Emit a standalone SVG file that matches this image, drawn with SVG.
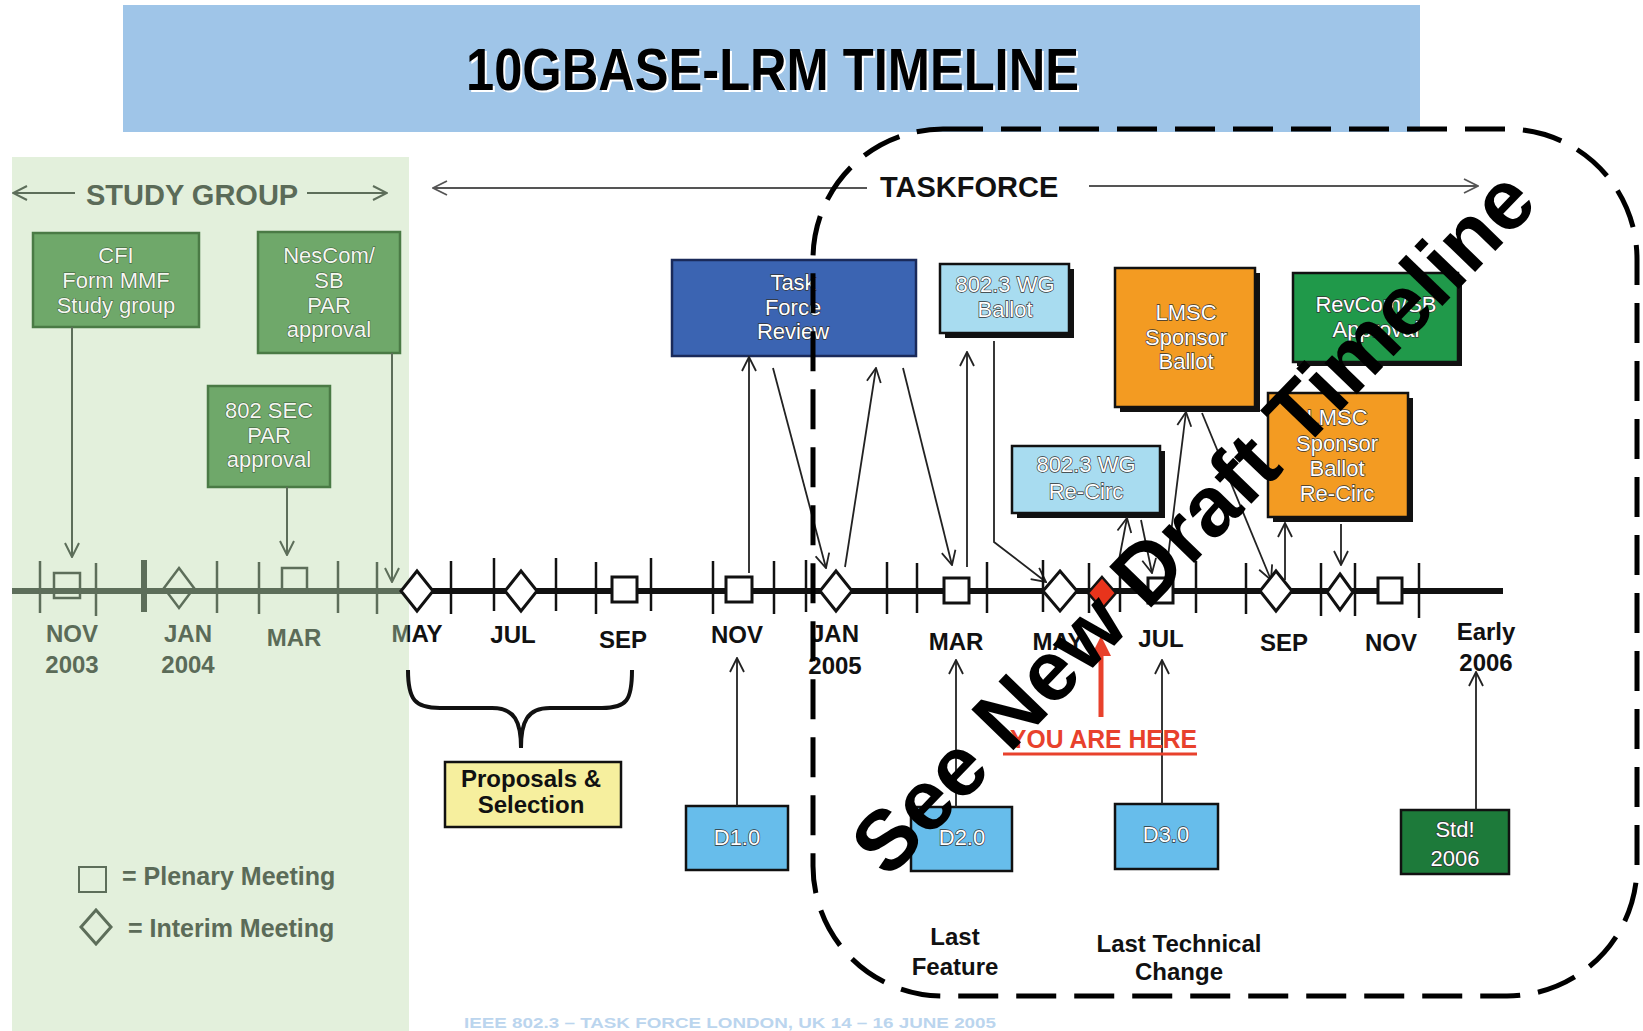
<svg xmlns="http://www.w3.org/2000/svg" width="1643" height="1031" viewBox="0 0 1643 1031">
<defs>
<style>
.sg{font-family:"Liberation Sans",Arial,sans-serif;font-weight:bold;fill:#5B6B58}
.lb{font-family:"Liberation Sans",Arial,sans-serif;font-weight:bold;font-size:24px;fill:#111;text-anchor:middle}
.lbg{font-family:"Liberation Sans",Arial,sans-serif;font-weight:bold;font-size:24px;fill:#5B6B58;text-anchor:middle}
.gt{font-family:"Liberation Sans",Arial,sans-serif;font-size:22px;fill:#F4F7F0;stroke:#3B5638;stroke-width:1;paint-order:stroke;text-anchor:middle}
.wt{font-family:"Liberation Sans",Arial,sans-serif;font-size:22px;fill:#fff;stroke:#333;stroke-width:1.3;paint-order:stroke;text-anchor:middle}
.gbox{fill:#6FA86A;stroke:#4A7A45;stroke-width:2.5}
.bk{stroke:#111;stroke-width:2.5}
.sh{fill:#111}
.con{fill:none;stroke:#222;stroke-width:1.8;marker-end:url(#ah)}
.cong{fill:none;stroke:#5D6E5A;stroke-width:2;marker-end:url(#ahg)}
.tk{stroke:#111;stroke-width:2.5}
.tkg{stroke:#5D6E5A;stroke-width:2.5}
.mt{fill:#fff;stroke:#111;stroke-width:3}
.mtg{fill:none;stroke:#5D6E5A;stroke-width:2.5}
</style>
<marker id="ah" viewBox="0 0 16 16" refX="15" refY="8" markerWidth="16" markerHeight="16" markerUnits="userSpaceOnUse" orient="auto"><path d="M1,1 L15,8 L1,15" fill="none" stroke="#222" stroke-width="1.8"/></marker>
<marker id="ahg" viewBox="0 0 16 16" refX="15" refY="8" markerWidth="16" markerHeight="16" markerUnits="userSpaceOnUse" orient="auto"><path d="M1,1 L15,8 L1,15" fill="none" stroke="#5D6E5A" stroke-width="2"/></marker>
<marker id="ahl" viewBox="0 0 16 16" refX="15" refY="8" markerWidth="16" markerHeight="16" markerUnits="userSpaceOnUse" orient="auto"><path d="M1,1 L15,8 L1,15" fill="none" stroke="#555" stroke-width="1.8"/></marker>
<clipPath id="cl"><rect x="0" y="0" width="408" height="1031"/></clipPath>
<clipPath id="cr"><rect x="408" y="0" width="1235" height="1031"/></clipPath>
</defs>
<rect x="0" y="0" width="1643" height="1031" fill="#fff"/>
<rect x="12" y="157" width="397" height="874" fill="#E3F0DC"/>
<g id="title">
<rect x="123" y="5" width="1297" height="127" fill="#9FC5E8"/>
<text x="468" y="92" font-family="'Liberation Sans',Arial,sans-serif" font-weight="bold" font-size="60" fill="#fff" textLength="613" lengthAdjust="spacingAndGlyphs">10GBASE-LRM TIMELINE</text>
<text x="466" y="90" font-family="'Liberation Sans',Arial,sans-serif" font-weight="bold" font-size="60" fill="#000" textLength="613" lengthAdjust="spacingAndGlyphs">10GBASE-LRM TIMELINE</text>
</g>
<g id="study-group-label">
<text class="sg" x="86" y="205" font-size="29">STUDY GROUP</text>
<line x1="75" y1="193" x2="13" y2="193" class="cong"/>
<line x1="307" y1="193" x2="387" y2="193" class="cong"/>
</g>
<g id="taskforce-label">
<text x="880" y="197" font-family="'Liberation Sans',Arial,sans-serif" font-weight="bold" font-size="29" fill="#111">TASKFORCE</text>
<line x1="867" y1="188" x2="433" y2="188" fill="none" stroke="#555" stroke-width="1.8" marker-end="url(#ahl)"/>
<line x1="1089" y1="186" x2="1478" y2="186" fill="none" stroke="#555" stroke-width="1.8" marker-end="url(#ahl)"/>
</g>
<g id="cfi"><rect class="gbox" x="33" y="233" width="166" height="94"/>
<text class="gt" x="116" y="263">CFI</text><text class="gt" x="116" y="288">Form MMF</text><text class="gt" x="116" y="313">Study group</text></g>
<g id="nescom"><rect class="gbox" x="258" y="232" width="142" height="121"/>
<text class="gt" x="329" y="263">NesCom/</text><text class="gt" x="329" y="288">SB</text><text class="gt" x="329" y="313">PAR</text><text class="gt" x="329" y="337">approval</text></g>
<g id="sec"><rect class="gbox" x="208" y="386" width="122" height="101"/>
<text class="gt" x="269" y="418">802 SEC</text><text class="gt" x="269" y="443">PAR</text><text class="gt" x="269" y="467">approval</text></g>
<g id="tfr"><rect x="672" y="260" width="244" height="96" fill="#3B64B2" stroke="#1A2A5A" stroke-width="2.5"/>
<text class="wt" x="793" y="290" stroke="#1A2A5A">Task</text><text class="wt" x="793" y="315" stroke="#1A2A5A">Force</text><text class="wt" x="793" y="339" stroke="#1A2A5A">Review</text></g>
<g id="wg-ballot"><rect class="sh" x="945" y="269" width="129" height="69"/><rect class="bk" x="940" y="264" width="129" height="69" fill="#A8DCF0"/>
<text class="wt" x="1005" y="292">802.3 WG</text><text class="wt" x="1005" y="317">Ballot</text></g>
<g id="lmsc-ballot"><rect class="sh" x="1120" y="273" width="140" height="139"/><rect class="bk" x="1115" y="268" width="140" height="139" fill="#F39B22"/>
<text class="wt" x="1186" y="320">LMSC</text><text class="wt" x="1186" y="345">Sponsor</text><text class="wt" x="1186" y="369">Ballot</text></g>
<g id="revcom"><rect class="sh" x="1297" y="277" width="165" height="89"/><rect class="bk" x="1293" y="273" width="165" height="89" fill="#20994A"/>
<text class="wt" x="1376" y="312">RevCom/SB</text><text class="wt" x="1376" y="337">Approval</text></g>
<g id="wg-recirc"><rect class="sh" x="1017" y="451" width="148" height="67"/><rect class="bk" x="1012" y="446" width="148" height="67" fill="#A8DCF0"/>
<text class="wt" x="1086" y="472">802.3 WG</text><text class="wt" x="1086" y="499">Re-Circ</text></g>
<g id="lmsc-recirc"><rect class="sh" x="1273" y="398" width="140" height="124"/><rect class="bk" x="1268" y="393" width="140" height="124" fill="#F39B22"/>
<text class="wt" x="1337" y="425">LMSC</text><text class="wt" x="1337" y="451">Sponsor</text><text class="wt" x="1337" y="476">Ballot</text><text class="wt" x="1337" y="501">Re-Circ</text></g>
<g id="proposals"><rect class="bk" x="445" y="762" width="176" height="65" fill="#F6EF9E"/>
<text class="lb" x="531" y="787" font-size="21">Proposals &amp;</text><text class="lb" x="531" y="813" font-size="21">Selection</text></g>
<g id="d1"><rect class="bk" x="686" y="806" width="102" height="64" fill="#67BDEB"/><text class="wt" x="737" y="845" font-size="21">D1.0</text></g>
<g id="d2"><rect class="bk" x="911" y="807" width="101" height="64" fill="#67BDEB"/><text class="wt" x="962" y="845" font-size="21">D2.0</text></g>
<g id="d3"><rect class="bk" x="1115" y="804" width="103" height="65" fill="#67BDEB"/><text class="wt" x="1166" y="842" font-size="21">D3.0</text></g>
<g id="std"><rect class="bk" x="1401" y="810" width="108" height="64" fill="#1D7A3A"/><text class="wt" x="1455" y="837" font-size="25">Std!</text><text class="wt" x="1455" y="866" font-size="25">2006</text></g>
<g id="connectors">
<line class="cong" x1="72" y1="327" x2="72" y2="557"/>
<line class="cong" x1="287" y1="487" x2="287" y2="555"/>
<line class="cong" x1="392" y1="353" x2="392" y2="582"/>
<line class="con" x1="749" y1="573" x2="749" y2="357"/>
<line class="con" x1="773" y1="368" x2="826" y2="568"/>
<line class="con" x1="845" y1="567" x2="876" y2="368"/>
<line class="con" x1="903" y1="368" x2="952" y2="565"/>
<line class="con" x1="967" y1="567" x2="967" y2="352"/>
<polyline class="con" points="994,341 994,542 1046,582"/>
<line class="con" x1="1118" y1="565" x2="1127" y2="518"/>
<line class="con" x1="1141" y1="520" x2="1152" y2="573"/>
<line class="con" x1="1166" y1="573" x2="1186" y2="412"/>
<line class="con" x1="1202" y1="413" x2="1271" y2="580"/>
<line class="con" x1="1285" y1="580" x2="1285" y2="523"/>
<line class="con" x1="1341" y1="524" x2="1341" y2="565"/>
<line class="con" x1="737" y1="806" x2="737" y2="658"/>
<line class="con" x1="956" y1="807" x2="956" y2="660"/>
<line class="con" x1="1162" y1="804" x2="1162" y2="660"/>
<line class="con" x1="1476" y1="810" x2="1476" y2="672"/>
<line x1="1101" y1="717" x2="1101" y2="652" stroke="#E8412C" stroke-width="5"/>
<polygon points="1091,656 1101,636 1111,656" fill="#E8412C"/>
</g>
<g id="timeline">
<line x1="12" y1="591" x2="408" y2="591" stroke="#5D6E5A" stroke-width="6"/>
<line x1="408" y1="591" x2="1503" y2="591" stroke="#111" stroke-width="6"/>
<g class="tkg">
<line x1="40" y1="561" x2="40" y2="613"/><line x1="96" y1="563" x2="96" y2="616"/>
<line x1="144" y1="560" x2="144" y2="612" stroke-width="6"/>
<line x1="217" y1="561" x2="217" y2="613"/><line x1="259" y1="562" x2="259" y2="614"/>
<line x1="338" y1="561" x2="338" y2="613"/><line x1="377" y1="562" x2="377" y2="614"/>
</g>
<g class="tk">
<line x1="451" y1="561" x2="451" y2="614"/><line x1="494" y1="558" x2="494" y2="611"/>
<line x1="556" y1="558" x2="556" y2="611"/><line x1="596" y1="562" x2="596" y2="614"/>
<line x1="651" y1="558" x2="651" y2="611"/><line x1="713" y1="561" x2="713" y2="614"/>
<line x1="774" y1="561" x2="774" y2="614"/><line x1="806" y1="560" x2="806" y2="612"/>
<line x1="887" y1="562" x2="887" y2="614"/><line x1="917" y1="563" x2="917" y2="613"/>
<line x1="987" y1="562" x2="987" y2="613"/><line x1="1043" y1="560" x2="1043" y2="612"/>
<line x1="1089" y1="563" x2="1089" y2="613"/><line x1="1120" y1="562" x2="1120" y2="612"/>
<line x1="1196" y1="561" x2="1196" y2="613"/><line x1="1246" y1="563" x2="1246" y2="614"/>
<line x1="1321" y1="563" x2="1321" y2="616"/><line x1="1355" y1="563" x2="1355" y2="616"/>
<line x1="1419" y1="563" x2="1419" y2="618"/>
</g>
<rect class="mtg" x="54" y="573" width="26" height="25" stroke-width="2"/>
<polygon class="mtg" points="179,568 194,588 179,608 164,588" stroke-width="3"/>
<rect class="mtg" x="282" y="568" width="25" height="24" stroke-width="2"/>
<polygon class="mt" points="417,571 433,591 417,611 401,591"/>
<polygon class="mt" points="521,571 537,591 521,611 505,591"/>
<rect class="mt" x="612" y="577" width="25" height="25" stroke-width="2"/>
<rect class="mt" x="726" y="577" width="26" height="25" stroke-width="2"/>
<polygon class="mt" points="836,571 852,591 836,611 820,591"/>
<rect class="mt" x="944" y="578" width="25" height="25" stroke-width="2"/>
<polygon class="mt" points="1060,571 1077,591 1060,611 1043,591"/>
<polygon points="1102,577 1116,593 1102,609 1088,593" fill="#E8341C" stroke="#111" stroke-width="2.5"/>
<rect class="mt" x="1148" y="578" width="25" height="25" stroke-width="2"/>
<polygon class="mt" points="1276,571 1292,591 1276,611 1260,591"/>
<polygon class="mt" points="1340,574 1353,592 1340,610 1327,592"/>
<rect class="mt" x="1378" y="578" width="24" height="25" stroke-width="2"/>
</g>
<g id="labels">
<text class="lbg" x="72" y="642">NOV</text><text class="lbg" x="72" y="673">2003</text>
<text class="lbg" x="188" y="642">JAN</text><text class="lbg" x="188" y="673">2004</text>
<text class="lbg" x="294" y="646">MAR</text>
<text class="lbg" x="417" y="642" clip-path="url(#cl)">MAY</text>
<text class="lb" x="417" y="642" clip-path="url(#cr)">MAY</text>
<text class="lb" x="513" y="643">JUL</text>
<text class="lb" x="623" y="648">SEP</text>
<text class="lb" x="737" y="643">NOV</text>
<text class="lb" x="835" y="642">JAN</text><text class="lb" x="835" y="674">2005</text>
<text class="lb" x="956" y="650">MAR</text>
<text class="lb" x="1058" y="650">MAY</text>
<text class="lb" x="1161" y="647">JUL</text>
<text class="lb" x="1284" y="651">SEP</text>
<text class="lb" x="1391" y="651">NOV</text>
<text class="lb" x="1486" y="640">Early</text><text class="lb" x="1486" y="671">2006</text>
<text class="lb" x="955" y="945">Last</text><text class="lb" x="955" y="975">Feature</text>
<text class="lb" x="1179" y="952">Last Technical</text><text class="lb" x="1179" y="980">Change</text>
<text x="1010" y="748" font-family="'Liberation Sans',Arial,sans-serif" font-weight="bold" font-size="25" fill="#E8412C" textLength="187" lengthAdjust="spacingAndGlyphs">YOU ARE HERE</text>
<line x1="1003" y1="754" x2="1197" y2="754" stroke="#E8412C" stroke-width="3"/>
</g>
<g id="brace"><path d="M408,670 C408,700 415,708 440,708 L492,708 C515,708 521,722 521,748 C521,722 527,708 550,708 L602,708 C627,708 632,700 632,670" fill="none" stroke="#111" stroke-width="4"/></g>
<g id="legend">
<rect x="79" y="867" width="27" height="25" fill="none" stroke="#5D6E5A" stroke-width="2"/>
<text class="sg" x="122" y="885" font-size="25">= Plenary Meeting</text>
<polygon points="96,910 111,927 96,944 81,927" fill="none" stroke="#5D6E5A" stroke-width="3"/>
<text class="sg" x="128" y="937" font-size="25">= Interim Meeting</text>
</g>
<g id="footer"><text x="464" y="1028" font-family="'Liberation Sans',Arial,sans-serif" font-weight="bold" font-size="14" fill="#BBD5EE" textLength="532" lengthAdjust="spacingAndGlyphs">IEEE 802.3 – TASK FORCE LONDON, UK 14 – 16 JUNE 2005</text></g>
<g id="taskforce-region"><rect x="813" y="129" width="824" height="867" rx="130" ry="130" fill="none" stroke="#000" stroke-width="5" stroke-dasharray="40 18"/></g>
<g id="watermark"><text transform="translate(888,880) rotate(-46)" font-family="'Liberation Sans',Arial,sans-serif" font-weight="bold" font-size="85" fill="#000">See New Draft Timeline</text></g>
</svg>
